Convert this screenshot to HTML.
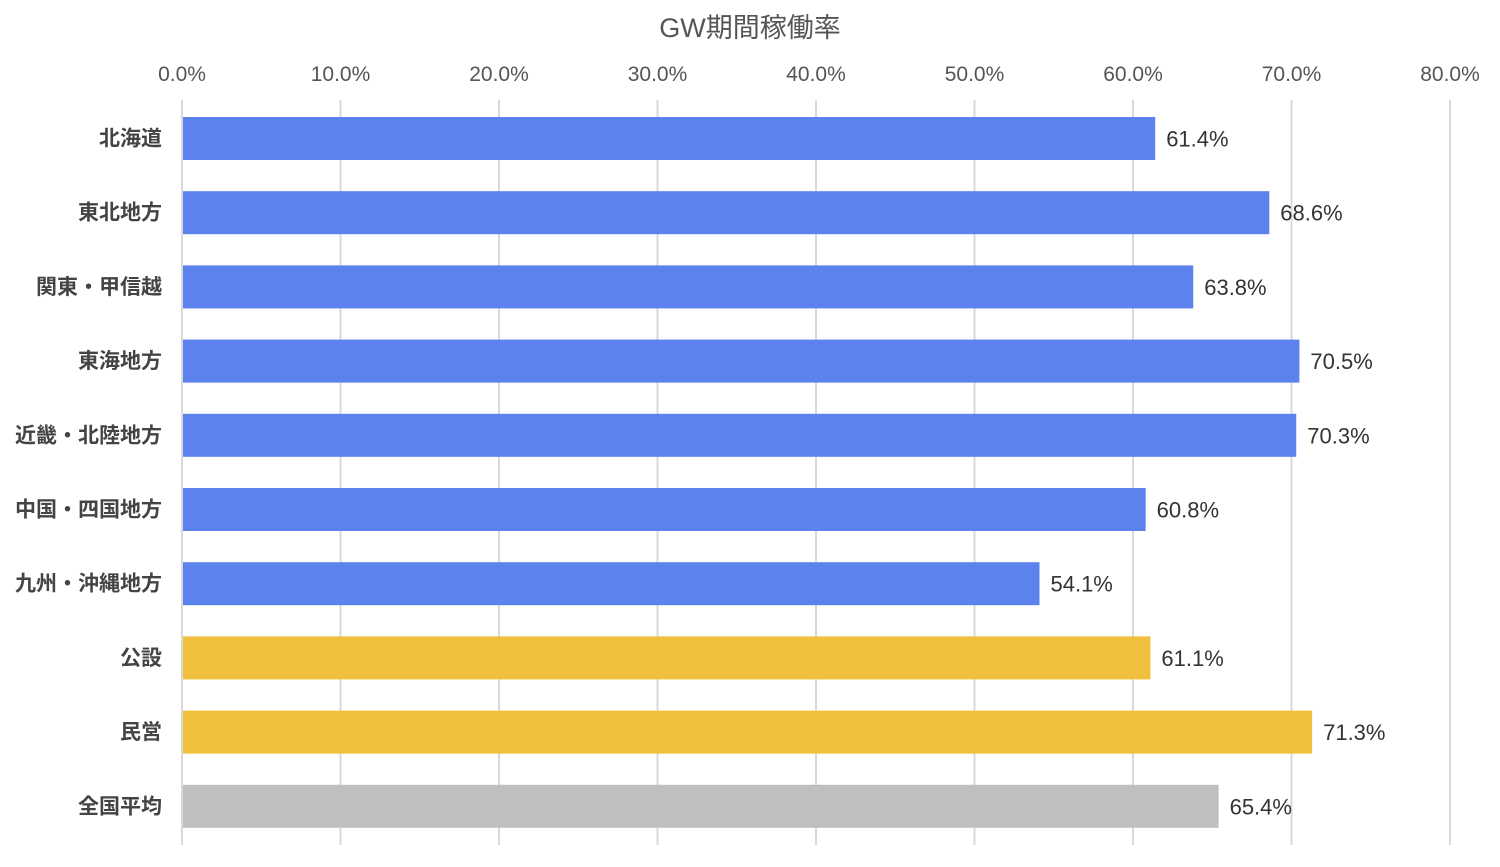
<!DOCTYPE html>
<html><head><meta charset="utf-8"><style>
body{margin:0;background:#fff;}
svg text{font-family:"Liberation Sans","Noto Sans CJK JP",sans-serif;}
</style></head><body>
<svg id="chart" width="1500" height="862" viewBox="0 0 1500 862">
<text x="750" y="37" text-anchor="middle" font-size="27" fill="#555">GW期間稼働率</text>
<g id="grid"></g><g id="bars"></g>
</svg>
<script>
const categories=["北海道","東北地方","関東・甲信越","東海地方","近畿・北陸地方","中国・四国地方","九州・沖縄地方","公設","民営","全国平均"];
const values=[61.4,68.6,63.8,70.5,70.3,60.8,54.1,61.1,71.3,65.4];
const groups=["region","region","region","region","region","region","region","type","type","avg"];
const ticks=[0,10,20,30,40,50,60,70,80];
const colors={region:"#5b82ed",type:"#f0bf3c",avg:"#bfbfbf"};
const NS="http://www.w3.org/2000/svg";
const x=v=>182+v*(1450-182)/80;
const yc=i=>138.5+i*74.2;
const grid=document.getElementById('grid'),bars=document.getElementById('bars');
function mk(tag,attrs,parent){const e=document.createElementNS(NS,tag);for(const k in attrs)e.setAttribute(k,attrs[k]);parent.appendChild(e);return e;}
ticks.forEach(t=>{
  const l=mk('line',{x1:x(t),x2:x(t),y1:100,y2:845,stroke:"#d9d9d9","stroke-width":2},grid);
  
  
  const tx=mk('text',{x:x(t),y:81,"text-anchor":"middle","font-size":21,fill:"#555"},grid);
  tx.textContent=t.toFixed(1)+"%";
  
  
});
categories.forEach((c,i)=>{
  const r=mk('rect',{x:x(0)+1,y:yc(i)-21.5,width:x(values[i])-x(0)-1,height:43,fill:colors[groups[i]]},bars);
  
  
  const lb=mk('text',{x:162,y:yc(i)+7,"text-anchor":"end","font-size":21,"font-weight":"bold",fill:"#444"},bars);
  lb.textContent=c;
  
  
  const vl=mk('text',{x:x(values[i])+11,y:yc(i)+8,"font-size":22,fill:"#333"},bars);
  vl.textContent=values[i].toFixed(1)+"%";
  
  
});
</script>
</body></html>
